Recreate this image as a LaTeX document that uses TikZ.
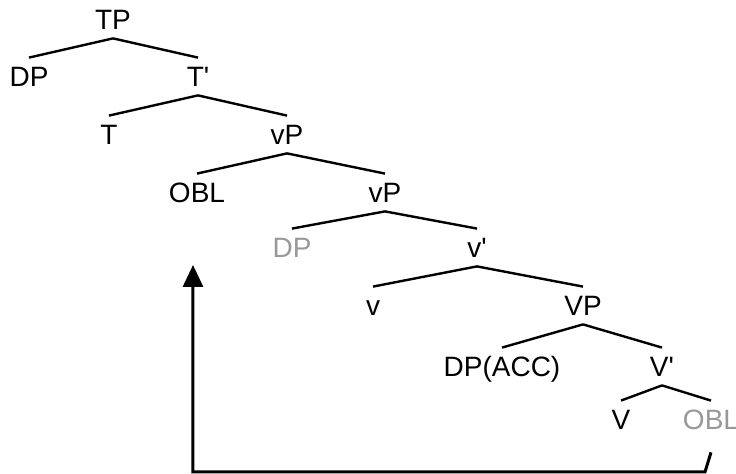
\documentclass[tikz,border=0pt]{standalone}
\usepackage{fontspec}
\setmainfont{Liberation Sans}
\usetikzlibrary{arrows.meta}
\tikzset{
lbl/.style={
  inner sep=0pt,
  text height=10pt,
  text depth=0pt,
  font=\fontsize{14pt}{16pt}\selectfont
  },
moved/.style={
  lbl,
  text=gray!80
  },
branch/.style={
  line width=1.2pt
  }
}
\begin{document}
\begin{tikzpicture}[x=0.5pt,y=-0.5pt,>=latex]
            \useasboundingbox (0,0) rectangle (736,474);
            % tree
            \node[lbl] (tp) at (113,20) {TP};
            \node[lbl] (dpa) at (29,77) {DP};
            \node[lbl] (tbar) at (198,77) {T\textquotesingle};
            \node[lbl] (t) at (109,135) {T};
            \node[lbl] (vpa) at (287,135) {vP};
            \node[lbl] (obla) at (197,193) {OBL};
            \node[lbl] (vpb) at (385,193) {vP};
            \node[moved] (dpb) at (292,248) {DP};
            \node[lbl] (vbar) at (477,248) {v\textquotesingle};
            \node[lbl] (v) at (373,306) {v};
            \node[lbl] (bigvp) at (583,306) {VP};
            \node[lbl] (dpacc) at (502,367) {DP(ACC)};
            \node[lbl] (bigvbar) at (662,367) {V\textquotesingle};
            \node[lbl] (bigv) at (621,420) {V};
            \node[moved] (oblb) at (711,420) {OBL};
            \foreach \a/\b in {tp/dpa,tp/tbar,tbar/t,tbar/vpa,vpa/obla,vpa/vpb,
                               vpb/dpb,vpb/vbar,vbar/v,vbar/bigvp,bigvp/dpacc,
                               bigvp/bigvbar,bigvbar/bigv,bigvbar/oblb}
              \draw[branch] ([yshift=-4pt]\a.south) -- ([yshift=4.5pt]\b.north);
            % movement
            \coordinate (turn) at (705,472);
            \coordinate (back) at (193,472);
            \coordinate (land) at (193,265);
            \draw[line width=1.5pt,-{Triangle[length=11pt,width=10pt]}]
              ([yshift=-11pt]oblb.south) -- (turn) -- (back) -- (land);
        \end{tikzpicture}
\end{document}
